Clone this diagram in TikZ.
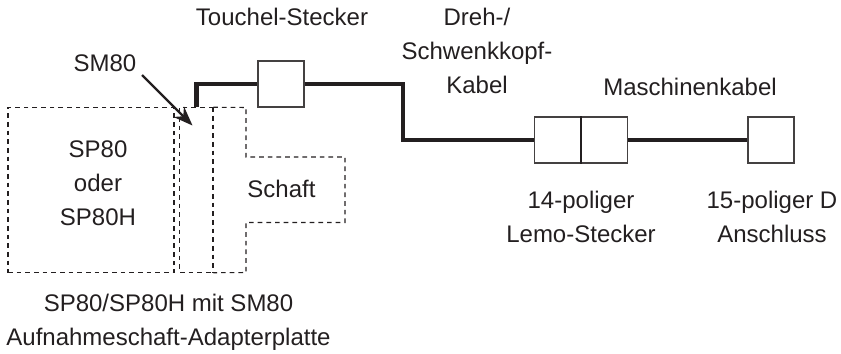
\documentclass[tikz,border=0pt]{standalone}
\usepackage{fontspec}
\setmainfont{Liberation Sans}
\usetikzlibrary{arrows.meta, positioning}
\definecolor{inkgrey}{RGB}{35,31,32}
\tikzset{
  lbl/.style={align=center, inner sep=0pt, text=inkgrey, font=\fontsize{18}{25.5}\selectfont},
  plug/.style={draw=inkgrey!85, fill=white, line width=0.8pt, minimum width=34.5pt, minimum height=34.5pt, inner sep=0pt},
  dashbox/.style={draw=inkgrey, line width=0.8pt, dash pattern=on 3.5pt off 3pt, inner sep=0pt},
  cable/.style={draw=inkgrey, line width=3.2pt, line join=miter},
  pointer/.style={draw=inkgrey, line width=1.7pt, -{Stealth[length=14.5pt, width=11pt]}}
}
\begin{document}
\begin{tikzpicture}[x=0.75pt, y=-0.75pt]
      \useasboundingbox (0,0) rectangle (841,353);
      % left part
      \node[dashbox, minimum width=124.5pt, minimum height=123.75pt] (sp80) at (91,190) {};
      \node[inner sep=0pt, minimum width=24.75pt, minimum height=123.75pt] (sm80) at (196.5,190) {};
      \draw[dashbox] (sm80.north east) -- (sm80.north west) -- (sm80.south west) -- (sm80.south east);
      \draw[dashbox, line width=1.3pt] (sm80.north east) -- (sm80.south east);
      \draw[dashbox] (sm80.north east) -- (246,107.5) -- (246,157) -- (345,157) -- (345,222.5)
        -- (246,222.5) -- (246,272.5) -- (sm80.south east);
      % plugs
      \node[plug] (touchel) at (281,84) {};
      \node[plug] (lemoa) at (557.5,140) {};
      \node[plug, right=0pt of lemoa] (lemob) {};
      \node[plug] (dsub) at (771,140) {};
      \draw[draw=inkgrey, line width=1.3pt] (lemoa.north east) -- (lemoa.south east);
      \coordinate (kink) at (403,140);
      % cables
      \draw[cable] (sm80.north) |- (touchel.west);
      \draw[cable] (touchel.east) -| (kink) -- (lemoa.west);
      \draw[cable] (lemob.east) -- (dsub.west);
      \coordinate (armtail) at (142,75);
      \coordinate (armtip) at (192.5,125.5);
      \draw[pointer] (armtail) -- (armtip);
      % labels
      \node[lbl] (lblsm) at (105,63) {SM80};
      \node[lbl] (lblsp) at (98,183) {SP80\\oder\\SP80H};
      \node[lbl] (lblschaft) at (281.5,189) {Schaft};
      \node[lbl] (lbltouchel) at (282,17) {Touchel-Stecker};
      \node[lbl] (lbldreh) at (477,51) {Dreh-/\\Schwenkkopf-\\Kabel};
      \node[lbl] (lblmasch) at (690,87) {Maschinenkabel};
      \node[lbl] (lbllemo) at (581,217) {14-poliger\\Lemo-Stecker};
      \node[lbl] (lbldsub) at (772,217) {15-poliger D\\Anschluss};
      \node[lbl] (lblplate) at (168.5,322) {SP80/SP80H mit SM80\\Aufnahmeschaft-Adapterplatte};
    \end{tikzpicture}
\end{document}
